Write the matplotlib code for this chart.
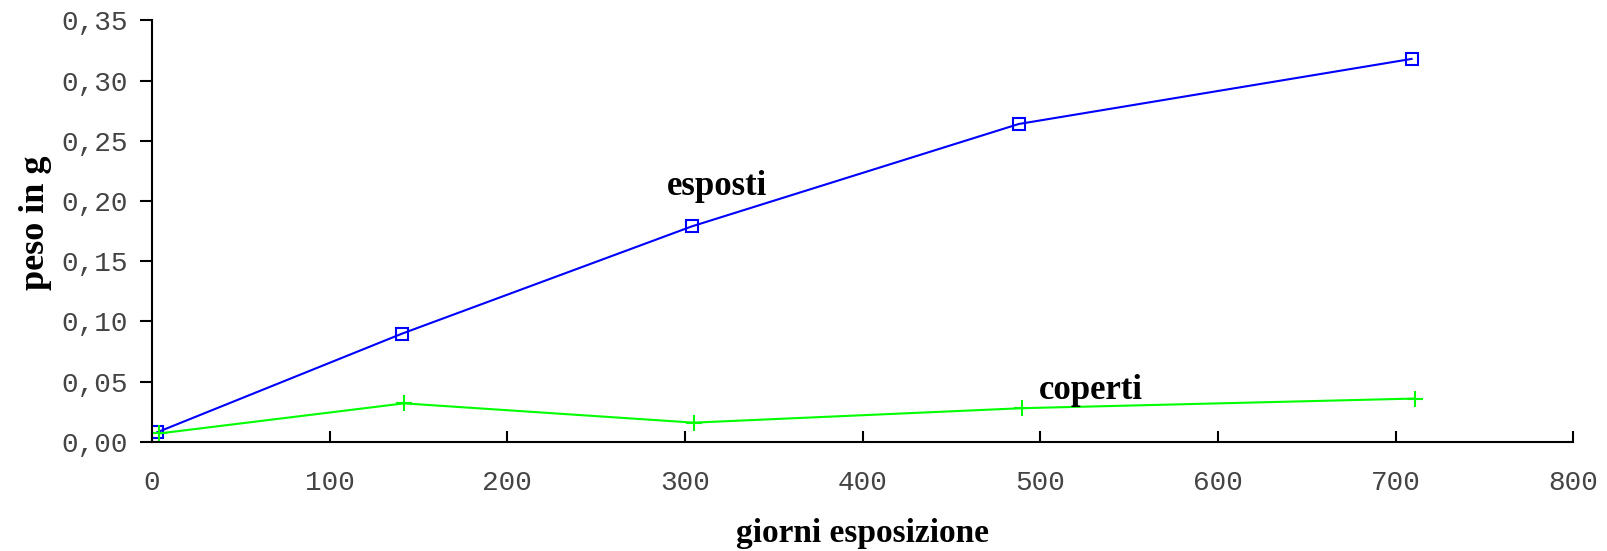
import matplotlib.pyplot as plt
import numpy as np

giorni_esposti = [3, 141, 304, 488, 709]
peso_esposti = [0.008, 0.090, 0.179, 0.264, 0.318]
giorni_coperti = [4, 142, 305, 490, 711]
peso_coperti = [0.007, 0.032, 0.016, 0.028, 0.036]

xticks = [0, 100, 200, 300, 400, 500, 600, 700, 800]
yticks = [0.0, 0.05, 0.10, 0.15, 0.20, 0.25, 0.30, 0.35]

fig = plt.figure(figsize=(16.07, 5.51), dpi=100)
ax = fig.add_axes([0.0945, 0.198, 0.8845, 0.765])

ax.plot(giorni_esposti, peso_esposti, "-", color="#0000ff", linewidth=1.5,
        marker="s", markersize=9, markerfacecolor="none", markeredgewidth=1.5)
ax.plot(giorni_coperti, peso_coperti, "-", color="#00ff00", linewidth=1.5,
        marker="+", markersize=11, markeredgewidth=1.5)

ax.set_xlim(0, 800)
ax.set_ylim(0, 0.35)
ax.set_xticks(xticks)
ax.set_yticks(yticks)
ax.set_xticklabels([str(v) for v in xticks])
ax.set_yticklabels([("%.2f" % v).replace(".", ",") for v in yticks])

for s in ["top", "right"]:
    ax.spines[s].set_visible(False)
for s in ["left", "bottom"]:
    ax.spines[s].set_linewidth(1.5)

ax.tick_params(axis="y", direction="out", length=9, width=1.5, pad=8,
               labelsize=20, labelcolor="#444444")
ax.tick_params(axis="x", direction="in", length=8, width=1.5, pad=20,
               labelsize=20, labelcolor="#444444")
for lab in ax.get_xticklabels() + ax.get_yticklabels():
    lab.set_family("Liberation Mono")
    lab.set_fontweight("light")

serif = dict(family="Liberation Serif", fontweight="bold")
ax.set_xlabel("giorni esposizione", labelpad=16, fontsize=24, **serif)
ax.set_ylabel("peso in g", fontsize=26, **serif)
ax.yaxis.set_label_coords(-0.07, 0.52)

ax.text(290, 0.205, "esposti", fontsize=25, **serif)
ax.text(499, 0.036, "coperti", fontsize=25, **serif)

fig.savefig("out.png", dpi=100)
